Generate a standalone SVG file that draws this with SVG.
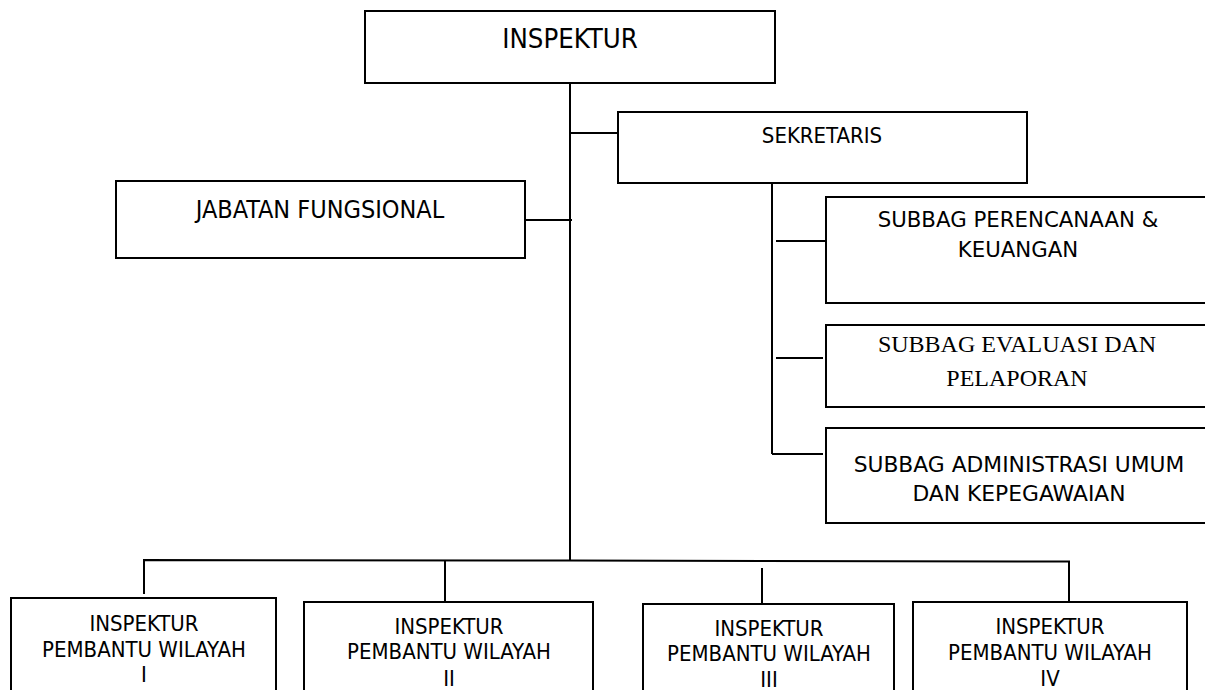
<svg xmlns="http://www.w3.org/2000/svg" width="1205" height="690" viewBox="0 0 1205 690">
  <style>
    .box { fill: #ffffff; stroke: #000000; stroke-width: 2; }
    .ln { fill: none; stroke: #000000; stroke-width: 2; }
    .t { font-family: "DejaVu Sans Condensed", "DejaVu Sans", sans-serif; fill: #000000; text-anchor: middle; }
    .tw { font-family: "DejaVu Sans", "Verdana", sans-serif; fill: #000000; text-anchor: middle; }
    .ts { font-family: "Liberation Serif", "Times New Roman", serif; fill: #000000; text-anchor: middle; }
    .b { font-size: 22px; }
  </style>
  <rect width="1205" height="690" fill="#ffffff"/>
  <g id="connectors">
    <line class="ln" x1="570" y1="76" x2="570" y2="561"/>
    <line class="ln" x1="570" y1="133" x2="618" y2="133"/>
    <line class="ln" x1="525" y1="220" x2="572" y2="220"/>
    <line class="ln" x1="772" y1="183" x2="772" y2="454"/>
    <line class="ln" x1="776" y1="241" x2="826" y2="241"/>
    <line class="ln" x1="776" y1="358" x2="823" y2="358"/>
    <line class="ln" x1="772" y1="454" x2="823" y2="454"/>
    <polyline class="ln" points="144,594 144,560 570,560.5 1069,561.5 1069,602"/>
    <line class="ln" x1="445" y1="560.5" x2="445" y2="602"/>
    <line class="ln" x1="762" y1="568" x2="762" y2="604"/>
  </g>
  <g id="inspektur">
    <rect class="box" x="365" y="11" width="410" height="72"/>
    <text class="t" x="570" y="48" font-size="27.3">INSPEKTUR</text>
  </g>
  <g id="sekretaris">
    <rect class="box" x="618" y="112" width="409" height="71"/>
    <text class="t" x="822" y="143" font-size="22">SEKRETARIS</text>
  </g>
  <g id="jabatan-fungsional">
    <rect class="box" x="116" y="181" width="409" height="77"/>
    <text class="t" x="320" y="218" font-size="25">JABATAN FUNGSIONAL</text>
  </g>
  <g id="subbag-perencanaan">
    <rect class="box" x="826" y="197" width="400" height="106"/>
    <text class="tw" x="1018" y="227" font-size="21.3">SUBBAG PERENCANAAN &amp;</text>
    <text class="tw" x="1018" y="257" font-size="21.3">KEUANGAN</text>
  </g>
  <g id="subbag-evaluasi">
    <rect class="box" x="826" y="325" width="400" height="82"/>
    <text class="ts" x="1017" y="352" font-size="24">SUBBAG EVALUASI DAN</text>
    <text class="ts" x="1017" y="386" font-size="24">PELAPORAN</text>
  </g>
  <g id="subbag-administrasi">
    <rect class="box" x="826" y="428" width="400" height="95"/>
    <text class="tw" x="1019" y="472" font-size="21.8">SUBBAG ADMINISTRASI UMUM</text>
    <text class="tw" x="1019" y="501" font-size="21.8">DAN KEPEGAWAIAN</text>
  </g>
  <g id="ipw-1">
    <rect class="box" x="11" y="598" width="265" height="110"/>
    <text class="t b" x="144" y="631">INSPEKTUR</text>
    <text class="t b" x="144" y="657">PEMBANTU WILAYAH</text>
    <text class="t b" x="144" y="682">I</text>
  </g>
  <g id="ipw-2">
    <rect class="box" x="304" y="602" width="289" height="110"/>
    <text class="t b" x="449" y="634">INSPEKTUR</text>
    <text class="t b" x="449" y="659">PEMBANTU WILAYAH</text>
    <text class="t b" x="449" y="686">II</text>
  </g>
  <g id="ipw-3">
    <rect class="box" x="643" y="604" width="251" height="110"/>
    <text class="t b" x="769" y="636">INSPEKTUR</text>
    <text class="t b" x="769" y="661">PEMBANTU WILAYAH</text>
    <text class="t b" x="769" y="687">III</text>
  </g>
  <g id="ipw-4">
    <rect class="box" x="913" y="602" width="274" height="110"/>
    <text class="t b" x="1050" y="634">INSPEKTUR</text>
    <text class="t b" x="1050" y="660">PEMBANTU WILAYAH</text>
    <text class="t b" x="1050" y="686">IV</text>
  </g>
</svg>
